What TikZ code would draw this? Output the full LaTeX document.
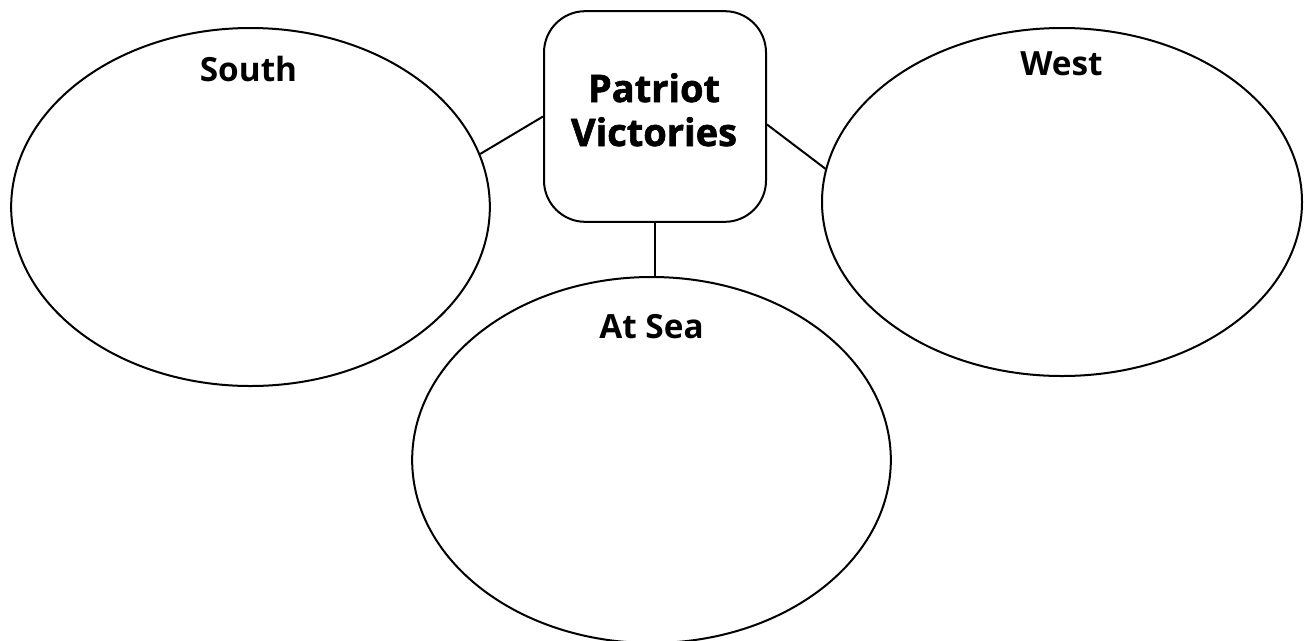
\documentclass[tikz,border=0pt]{standalone}
\usepackage{fontspec}
\setmainfont{Open Sans}
\newfontfamily\hubfont[BoldFeatures={FakeBold=1.6}]{Open Sans}
\usetikzlibrary{shapes.geometric}
\begin{document}
\begin{tikzpicture}[x=0.75pt,y=-0.75pt,
  outline/.style={draw=black,line width=1.5pt},
  bubble/.style={outline,ellipse,inner sep=0pt},
  hub/.style={outline,rounded corners=31pt,inner sep=0pt,minimum width=166.5pt,minimum height=158pt},
  title/.style={anchor=base,inner sep=0pt,font=\fontsize{25}{33}\selectfont\bfseries},
  hubtitle/.style={inner sep=0pt,align=center,font=\hubfont\fontsize{28.5}{33}\selectfont\bfseries},
  link/.style={draw=black,line width=1.5pt}]
\useasboundingbox (0,0) rectangle (1306,640);
% three region ellipses and the central box
\node[bubble,minimum width=359pt,minimum height=268.5pt] (south) at (250.5,207) {};
\node[bubble,minimum width=360pt,minimum height=261pt] (west) at (1062,202) {};
\node[bubble,minimum width=359pt,minimum height=274.5pt] (sea) at (651.5,460) {};
\node[hub] (hub) at (655,116.5) {};
% labels
\node[title] (southlbl) at (248.5,81) {South};
\node[title] (westlbl) at (1061.5,75) {West};
\node[title] (sealbl) at (651.5,338) {At Sea};
\node[hubtitle,anchor=base] (hublbl) at (654,102) {Patriot};
\node[hubtitle,anchor=base] (hublbl2) at (654,146) {Victories};
% connectors
\draw[link] (south.13.5) -- (hub.west);
\draw[link] ([yshift=-6pt]hub.east) -- (west.172.5);
\draw[link] (hub.south) -- (hub.south |- sea.north);
\end{tikzpicture}
\end{document}
